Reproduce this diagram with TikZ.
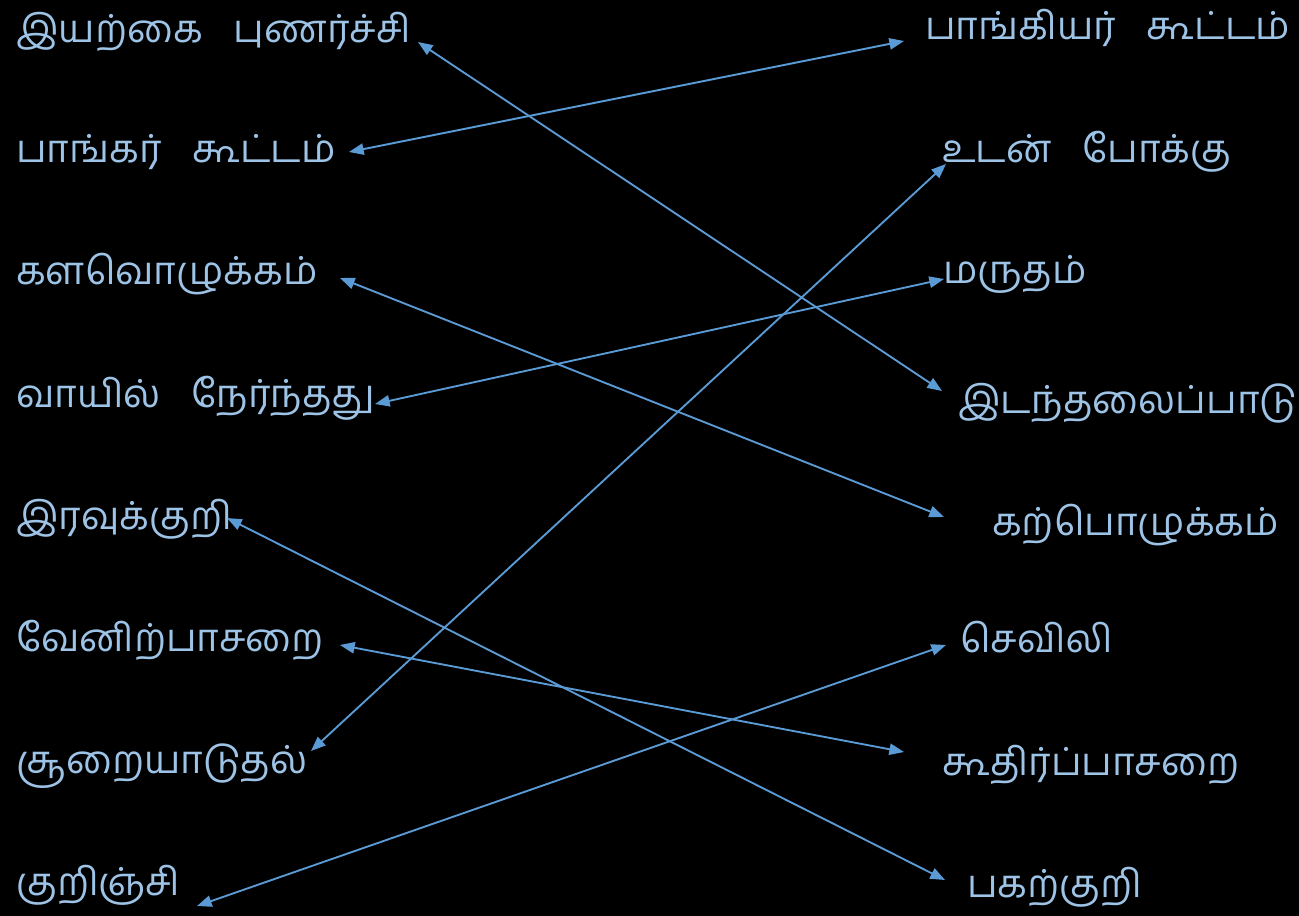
\documentclass[tikz,border=0pt]{standalone}
\usepackage{fontspec}
\newfontfamily\tamilfont[Script=Tamil]{Hind Madurai}
\usetikzlibrary{arrows.meta}
\definecolor{wordblue}{HTML}{9DC3E6}
\definecolor{linkblue}{HTML}{5B9BD5}
\tikzset{>={Triangle[length=11pt,width=8.5pt]}}
\tikzset{word/.style={anchor=base west, inner sep=0pt, text=wordblue, font=\tamilfont\fontsize{29}{33}\selectfont},
  link/.style={<->, linkblue, line width=1.4pt}}

\begin{document}
\begin{tikzpicture}[x=0.75pt,y=-0.75pt]
\fill[black] (0,0) rectangle (1299,916);
\node[word] (l1) at (16,43) {இயற்கை\hspace{0.55em} புணர்ச்சி};
\node[word] (l2) at (16,163) {பாங்கர்\hspace{0.55em} கூட்டம்};
\node[word] (l3) at (16,285) {களவொழுக்கம்};
\node[word] (l4) at (16,407) {வாயில்\hspace{0.55em} நேர்ந்தது};
\node[word] (l5) at (16,529) {இரவுக்குறி};
\node[word] (l6) at (16,651) {வேனிற்பாசறை};
\node[word] (l7) at (16,773) {சூறையாடுதல்};
\node[word] (l8) at (16,895) {குறிஞ்சி};
\node[word] (r1) at (925,40) {பாங்கியர்\hspace{0.55em} கூட்டம்};
\node[word] (r2) at (942,163) {உடன்\hspace{0.55em} போக்கு};
\node[word] (r3) at (943,283) {மருதம்};
\node[word] (r4) at (958,413) {இடந்தலைப்பாடு};
\node[word] (r5) at (992,535) {கற்பொழுக்கம்};
\node[word] (r6) at (960,652) {செவிலி};
\node[word] (r7) at (942,775) {கூதிர்ப்பாசறை};
\node[word] (r8) at (967,897) {பகற்குறி};
\draw[link] ([shift={(402,-1)}]l1.base west) -- ([shift={(-16,-22)}]r4.base west);
\draw[link] ([shift={(333,-11)}]l2.base west) -- ([shift={(-21,1)}]r1.base west);
\draw[link] ([shift={(324,-7)}]l3.base west) -- ([shift={(-48,-18)}]r5.base west);
\draw[link] ([shift={(359,-3)}]l4.base west) -- ([shift={(1,-4)}]r3.base west);
\draw[link] ([shift={(211,-11)}]l5.base west) -- ([shift={(-22,-17)}]r8.base west);
\draw[link] ([shift={(324,-6)}]l6.base west) -- ([shift={(-38,-23)}]r7.base west);
\draw[link] ([shift={(295,-22)}]l7.base west) -- ([shift={(4,1)}]r2.base west);
\draw[link] ([shift={(181,11)}]l8.base west) -- ([shift={(-14,-7)}]r6.base west);
\end{tikzpicture}
\end{document}
